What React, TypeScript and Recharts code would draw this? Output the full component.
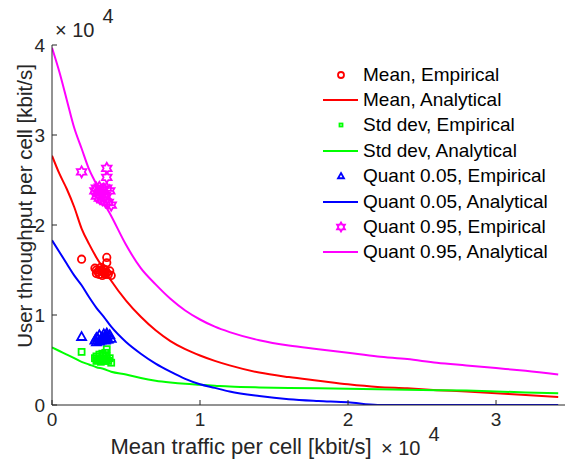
import React from 'react';
import { ComposedChart, Line, Scatter, XAxis, YAxis, Label } from 'recharts';

// analytical curves, sampled on a common traffic grid [kbit/s]
const trafficGrid = [0, 500, 1000, 1500, 2000, 2500, 3000, 3500, 4000, 5000, 6000, 7000, 8000, 9000, 10000, 11000, 12000, 14000, 16000, 18000, 20000, 22000, 24000, 26000, 28000, 30000, 32000, 34200];
const meanAnalytical = [27700, 25700, 24000, 22000, 19600, 17900, 16400, 15100, 13800, 11600, 9800, 8300, 7100, 6200, 5500, 4900, 4400, 3600, 3100, 2700, 2300, 2000, 1850, 1650, 1500, 1300, 1100, 900];
const stdAnalytical = [6400, 6000, 5600, 5200, 4800, 4500, 4200, 4000, 3700, 3400, 3000, 2700, 2500, 2350, 2250, 2150, 2050, 1950, 1900, 1850, 1800, 1750, 1700, 1650, 1600, 1500, 1400, 1300];
const q05Analytical = [18300, 17000, 15700, 14400, 13300, 12000, 10800, 9800, 8700, 7000, 5700, 4600, 3700, 2900, 2300, 1900, 1500, 1000, 650, 450, 300, 0, 0, 0, 0, 0, 0, 0];
const q95Analytical = [39700, 37000, 33900, 30800, 28500, 26200, 24500, 22500, 21000, 17800, 15200, 13400, 11800, 10500, 9500, 8700, 8100, 7200, 6600, 6200, 5800, 5400, 5100, 4700, 4400, 4100, 3800, 3400];

// empirical measurements
const empTraffic = [2000, 2900, 3000, 3000, 3100, 3200, 3200, 3300, 3400, 3400, 3500, 3500, 3600, 3600, 3700, 3700, 3700, 3800, 3900, 4000];
const meanEmpirical = [16200, 15200, 14600, 15000, 14800, 15000, 14500, 15300, 14900, 14400, 14700, 15100, 15000, 14500, 16400, 15800, 14700, 14500, 14900, 14400];
const stdEmpirical = [5900, 5200, 4900, 5400, 5000, 5600, 5100, 4800, 5700, 5000, 5100, 5500, 5800, 4900, 6200, 5400, 5000, 4900, 5200, 4700];
const q05Empirical = [7600, 7200, 7000, 7500, 7400, 7800, 7100, 7200, 7600, 7300, 7900, 7400, 7500, 7200, 8000, 7700, 7300, 7300, 7800, 7400];
const q95Empirical = [25900, 23800, 23200, 24100, 23500, 24200, 23000, 23600, 22800, 23900, 24000, 23100, 23300, 22600, 26300, 25300, 24100, 22500, 23800, 22200];

const xTicks = [0, 10000, 20000, 30000];
const yTicks = [0, 10000, 20000, 30000, 40000];

const toPoints = (xs: number[], ys: number[]) => xs.map((x, i) => ({ x, y: ys[i] }));

const AXIS = '#262626';
const FONT = '"Liberation Sans", Arial, Helvetica, sans-serif';

const circle = (color: string, r = 3.7) => (p: any) => (
  <circle cx={p.cx} cy={p.cy} r={r} fill="none" stroke={color} strokeWidth={1.8} />
);
const square = (color: string, s = 6) => (p: any) => (
  <rect x={p.cx - s / 2} y={p.cy - s / 2} width={s} height={s} fill="none" stroke={color} strokeWidth={1.8} />
);
const triangle = (color: string, r = 4.5) => (p: any) => (
  <polygon
    points={`${p.cx},${p.cy - r} ${p.cx + r},${p.cy + r * 0.75} ${p.cx - r},${p.cy + r * 0.75}`}
    fill="none"
    stroke={color}
    strokeWidth={1.8}
  />
);
const hexagram = (color: string, r = 5.5) => (p: any) => {
  const pts: string[] = [];
  for (let k = 0; k < 12; k++) {
    const a = (Math.PI / 6) * k - Math.PI / 2;
    const rr = k % 2 === 0 ? r : r * 0.58;
    pts.push(`${p.cx + rr * Math.cos(a)},${p.cy + rr * Math.sin(a)}`);
  }
  return <polygon points={pts.join(' ')} fill="none" stroke={color} strokeWidth={1.8} />;
};

const series = [
  { name: 'Mean, Empirical', color: '#ff0000', kind: 'marker', shape: circle, xs: empTraffic, ys: meanEmpirical },
  { name: 'Mean, Analytical', color: '#ff0000', kind: 'line', xs: trafficGrid, ys: meanAnalytical },
  { name: 'Std dev, Empirical', color: '#00ff00', kind: 'marker', shape: square, xs: empTraffic, ys: stdEmpirical },
  { name: 'Std dev, Analytical', color: '#00ff00', kind: 'line', xs: trafficGrid, ys: stdAnalytical },
  { name: 'Quant 0.05, Empirical', color: '#0000ff', kind: 'marker', shape: triangle, xs: empTraffic, ys: q05Empirical },
  { name: 'Quant 0.05, Analytical', color: '#0000ff', kind: 'line', xs: trafficGrid, ys: q05Analytical },
  { name: 'Quant 0.95, Empirical', color: '#ff00ff', kind: 'marker', shape: hexagram, xs: empTraffic, ys: q95Empirical },
  { name: 'Quant 0.95, Analytical', color: '#ff00ff', kind: 'line', xs: trafficGrid, ys: q95Analytical },
];

const tickStyle = { fontSize: 19, fill: AXIS, fontFamily: FONT };

const LegendBox = () => (
  <div style={{ position: 'absolute', left: 318, top: 62, fontFamily: FONT, fontSize: 19, color: '#000' }}>
    {series.map((s) => (
      <div key={s.name} style={{ height: 25.4, display: 'flex', alignItems: 'center', whiteSpace: 'nowrap' }}>
        <svg width={45} height={20} style={{ display: 'block' }}>
          {s.kind === 'line' ? (
            <line x1={5} x2={40} y1={10} y2={10} stroke={s.color} strokeWidth={2} />
          ) : (
            (s.shape as any)(s.color, s.shape === hexagram ? 4.5 : 3)({ cx: 23, cy: 10 })
          )}
        </svg>
        <span>{s.name}</span>
      </div>
    ))}
  </div>
);

const Exponent = ({ left, top }: { left: number; top: number }) => (
  <div style={{ position: 'absolute', left, top, fontFamily: FONT, fontSize: 20, color: AXIS, whiteSpace: 'nowrap', lineHeight: '20px' }}>
    ×&nbsp;10<span style={{ position: 'relative', top: -14, marginLeft: 8 }}>4</span>
  </div>
);

export default function App() {
  return (
    <div style={{ position: 'absolute', left: 0, top: 0, width: 566, height: 462, background: '#fff' }}>
      <ComposedChart width={566} height={462} margin={{ top: 45, right: 1, bottom: 0, left: 0 }}>
        <XAxis
          xAxisId="b"
          dataKey="x"
          type="number"
          domain={[0, 34660]}
          ticks={xTicks}
          tickFormatter={(v: number) => String(v / 10000)}
          height={57}
          tickSize={-5}
          tickMargin={13}
          stroke={AXIS}
          tick={tickStyle}
          allowDataOverflow
        >
          <Label
            content={() => (
              <text x={241} y={454} textAnchor="middle" fontFamily={FONT} fontSize={22} fill={AXIS}>
                Mean traffic per cell [kbit/s]
              </text>
            )}
          />
        </XAxis>
        <XAxis
          xAxisId="t"
          orientation="top"
          type="number"
          domain={[0, 34660]}
          ticks={xTicks}
          height={0}
          tickSize={-5}
          tick={false}
          stroke={AXIS}
          allowDataOverflow
        />
        <YAxis
          yAxisId="l"
          type="number"
          domain={[0, 40000]}
          ticks={yTicks}
          tickFormatter={(v: number) => String(v / 10000)}
          width={52}
          tickSize={-5}
          tickMargin={12}
          stroke={AXIS}
          tick={tickStyle}
          allowDataOverflow
        >
          <Label
            content={() => (
              <text
                x={24}
                y={206}
                transform="rotate(-90 24 206)"
                textAnchor="middle"
                dominantBaseline="central"
                fontFamily={FONT}
                fontSize={20.5}
                fill={AXIS}
              >
                User throughput per cell [kbit/s]
              </text>
            )}
          />
        </YAxis>
        <YAxis
          yAxisId="r"
          orientation="right"
          type="number"
          domain={[0, 40000]}
          ticks={yTicks}
          width={0}
          tickSize={-5}
          tick={false}
          stroke={AXIS}
          allowDataOverflow
        />
        {series.map((s) =>
          s.kind === 'line' ? (
            <Line
              key={s.name}
              xAxisId="b"
              yAxisId="l"
              data={toPoints(s.xs, s.ys)}
              dataKey="y"
              name={s.name}
              type="monotone"
              stroke={s.color}
              strokeWidth={2}
              dot={false}
              activeDot={false}
              isAnimationActive={false}
            />
          ) : (
            <Scatter
              key={s.name}
              xAxisId="b"
              yAxisId="l"
              data={toPoints(s.xs, s.ys)}
              dataKey="y"
              name={s.name}
              fill={s.color}
              shape={(s.shape as any)(s.color)}
              isAnimationActive={false}
            />
          )
        )}
      </ComposedChart>
      <LegendBox />
      <Exponent left={55} top={20} />
      <Exponent left={381} top={438} />
    </div>
  );
}
